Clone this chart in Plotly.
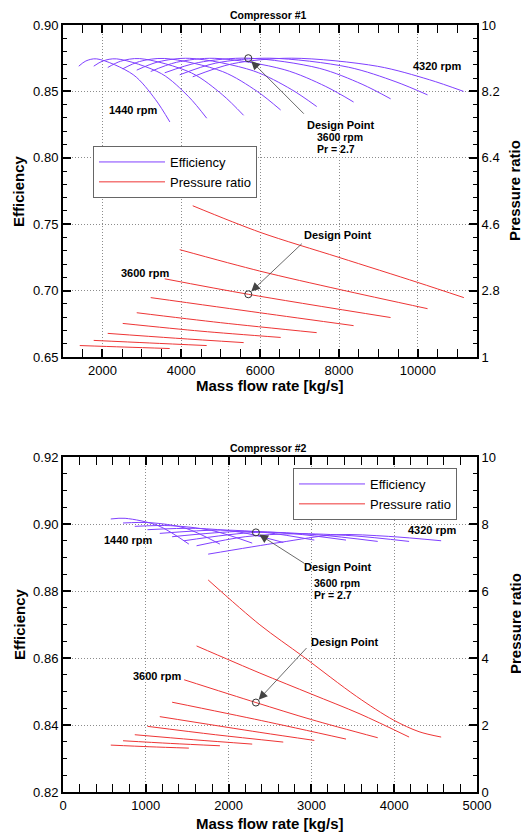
import plotly.graph_objects as go

FONT = "Liberation Sans, Arial, sans-serif"
# browser window size and default page margin of the html body
WIN_W, WIN_H = 529, 834
OFF = 8
W, H = WIN_W - OFF, WIN_H - OFF

# ---------------- data: Compressor #1 ----------------
speeds_rpm = [1440, 1800, 2160, 2520, 2880, 3240, 3600, 3960, 4320]

c1_eff_flow = [
    [1400, 1580, 1855, 2780, 3340, 3710],
    [1780, 2010, 2360, 3500, 4190, 4645],
    [2135, 2460, 2945, 4260, 5050, 5580],
    [2515, 2940, 3580, 5050, 5930, 6520],
    [2870, 3410, 4215, 5825, 6790, 7435],
    [3225, 3875, 4850, 6610, 7665, 8370],
    [3580, 4430, 5700, 7500, 8585, 9310],
    [3960, 4875, 6245, 8245, 9445, 10245],
    [4290, 5295, 6800, 8980, 10290, 11160],
]
c1_eff = [
    [0.869, 0.8729, 0.8745, 0.8626, 0.8441, 0.8270],
    [0.869, 0.8729, 0.8745, 0.8633, 0.8459, 0.8298],
    [0.868, 0.8727, 0.8747, 0.8639, 0.8473, 0.8320],
    [0.867, 0.8725, 0.8748, 0.8649, 0.8499, 0.8360],
    [0.866, 0.8722, 0.8749, 0.8655, 0.8515, 0.8386],
    [0.865, 0.8719, 0.8749, 0.8664, 0.8537, 0.8420],
    [0.864, 0.8717, 0.8750, 0.8674, 0.8554, 0.8444],
    [0.8625, 0.8713, 0.8750, 0.8682, 0.8572, 0.8474],
    [0.861, 0.8708, 0.8750, 0.8689, 0.8588, 0.8500],
]
c1_pr_flow = [
    [1425, 2550, 3706],
    [1779, 3200, 4644],
    [2134, 3850, 5582],
    [2515, 4500, 6521],
    [2870, 5000, 7434],
    [3224, 5988, 8370],
    [3579, 5700, 9308],
    [3960, 5988, 8016, 10246],
    [4290, 6000, 8000, 10000, 11167],
]
c1_pr = [
    [1.31, 1.27, 1.23],
    [1.45, 1.38, 1.31],
    [1.64, 1.51, 1.39],
    [1.91, 1.70, 1.53],
    [2.20, 1.93, 1.66],
    [2.61, 2.20, 1.85],
    [3.12, 2.70, 2.07],
    [3.91, 3.33, 2.83, 2.31],
    [5.10, 4.38, 3.70, 3.02, 2.61],
]
c1_design = {"flow": 5700, "eff": 0.875, "pr": 2.70}

# ---------------- data: Compressor #2 ----------------
c2_eff_flow = [
    [577, 750, 1150, 1520],
    [725, 1050, 1473, 1895],
    [867, 1300, 1793, 2285],
    [1020, 1600, 2130, 2660],
    [1169, 1900, 2468, 3035],
    [1318, 2150, 2784, 3418],
    [1463, 2330, 3066, 3801],
    [1613, 2200, 2800, 3490, 4180],
    [1753, 2620, 3300, 3934, 4567],
]
c2_eff = [
    [0.9015, 0.9017, 0.8995, 0.8940],
    [0.9003, 0.9004, 0.8988, 0.8940],
    [0.8993, 0.8995, 0.8981, 0.8943],
    [0.8983, 0.8987, 0.8976, 0.8945],
    [0.8972, 0.8982, 0.8974, 0.8952],
    [0.8962, 0.8978, 0.8971, 0.8952],
    [0.8950, 0.8975, 0.8968, 0.8948],
    [0.8935, 0.8962, 0.8971, 0.8965, 0.8948],
    [0.8910, 0.8945, 0.8968, 0.8963, 0.8950],
]
c2_pr_flow = [
    [577, 1050, 1520],
    [725, 1300, 1895],
    [867, 1580, 2285],
    [1020, 1840, 2660],
    [1169, 2378, 3035],
    [1318, 2400, 3418],
    [1463, 2330, 3003, 3801],
    [1613, 2378, 3003, 3587, 4180],
    [1753, 2378, 2902, 3547, 3990, 4300, 4567],
]
c2_pr = [
    [1.40, 1.35, 1.31],
    [1.53, 1.45, 1.38],
    [1.71, 1.56, 1.43],
    [1.96, 1.71, 1.49],
    [2.25, 1.78, 1.54],
    [2.68, 2.13, 1.58],
    [3.35, 2.67, 2.16, 1.62],
    [4.36, 3.55, 2.92, 2.33, 1.64],
    [6.33, 4.99, 4.04, 2.85, 2.15, 1.80, 1.64],
]
c2_design = {"flow": 2330, "eff": 0.8975, "pr": 2.67}

EFF_COLOR = "#8040ff"
PR_COLOR = "#ee3535"

fig = go.Figure()


def add_chart(eff_flow, eff, pr_flow, pr, design, xa, ya_l, ya_r, legend):
    for i, (fx, fy) in enumerate(zip(eff_flow, eff)):
        fig.add_trace(go.Scatter(
            x=fx, y=fy, mode="lines", line=dict(color=EFF_COLOR, width=1, shape="spline", smoothing=0.9),
            name="Efficiency", legendgroup=legend + "e", showlegend=(i == 0), legend=legend,
            xaxis=xa, yaxis=ya_l, hoverinfo="skip"))
    for i, (fx, fy) in enumerate(zip(pr_flow, pr)):
        fig.add_trace(go.Scatter(
            x=fx, y=fy, mode="lines", line=dict(color=PR_COLOR, width=1, shape="spline", smoothing=0.9),
            name="Pressure ratio", legendgroup=legend + "p", showlegend=(i == 0), legend=legend,
            xaxis=xa, yaxis=ya_r, hoverinfo="skip"))
    fig.add_trace(go.Scatter(x=[design["flow"]], y=[design["eff"]], mode="markers",
                             marker=dict(symbol="circle-open", size=7, color="#333", line=dict(width=1)),
                             showlegend=False, xaxis=xa, yaxis=ya_l))
    fig.add_trace(go.Scatter(x=[design["flow"]], y=[design["pr"]], mode="markers",
                             marker=dict(symbol="circle-open", size=7, color="#333", line=dict(width=1)),
                             showlegend=False, xaxis=xa, yaxis=ya_r))


add_chart(c1_eff_flow, c1_eff, c1_pr_flow, c1_pr, c1_design, "x", "y", "y2", "legend")
add_chart(c2_eff_flow, c2_eff, c2_pr_flow, c2_pr, c2_design, "x2", "y3", "y4", "legend2")


def fx_(xs):  # screen x pixel -> paper fraction
    return (xs - OFF) / W


def fy_(ys):  # screen y pixel -> paper fraction
    return 1 - (ys - OFF) / H


XD = [fx_(63), fx_(477)]
TOP = [fy_(357), fy_(25)]
BOT = [fy_(792), fy_(457)]

tickfont = dict(family=FONT, size=13, color="black")
GRID = dict(showgrid=True, gridcolor="#8c8c8c", griddash="1px,2px", gridwidth=1)


def xaxis(rng, dtick, minor, anchor):
    return dict(domain=XD, range=rng, dtick=dtick, tick0=0, anchor=anchor, automargin=False,
                showline=True, linecolor="black", linewidth=2, mirror="allticks",
                ticks="inside", ticklen=8, tickwidth=2, tickcolor="black",
                minor=dict(dtick=minor, tick0=0, ticks="inside", ticklen=4, tickwidth=1, tickcolor="black"),
                zeroline=False, tickfont=tickfont, tickformat="d", **GRID)


def yleft(dom, rng, dtick, minor, anchor, fmt):
    return dict(domain=dom, range=rng, dtick=dtick, tick0=0, anchor=anchor, automargin=False,
                showline=True, linecolor="black", linewidth=2,
                ticks="inside", ticklen=8, tickwidth=2, tickcolor="black",
                minor=dict(dtick=minor, tick0=0, ticks="inside", ticklen=4, tickwidth=1, tickcolor="black"),
                zeroline=False, tickfont=tickfont, tickformat=fmt, **GRID)


def yright(over, rng, tick0, dtick, minor, anchor):
    return dict(overlaying=over, side="right", range=rng, tick0=tick0, dtick=dtick, anchor=anchor,
                automargin=False,
                showline=True, linecolor="black", linewidth=2,
                ticks="inside", ticklen=8, tickwidth=2, tickcolor="black",
                minor=dict(dtick=minor, tick0=tick0, ticks="inside", ticklen=4, tickwidth=1, tickcolor="black"),
                showgrid=False, zeroline=False, tickfont=tickfont)


legend_common = dict(xanchor="left", yanchor="top", bordercolor="#666", borderwidth=1, bgcolor="white",
                     font=dict(family=FONT, size=13, color="black"), itemwidth=66, tracegroupgap=0)

fig.update_layout(
    template="none",
    width=W, height=H, margin=dict(l=0, r=0, t=0, b=0, autoexpand=False),
    paper_bgcolor="white", plot_bgcolor="white",
    font=dict(family=FONT, color="black"),
    xaxis=xaxis([1000, 11500], 2000, 500, "y"),
    yaxis=yleft(TOP, [0.65, 0.90], 0.05, 0.01, "x", ".2f"),
    yaxis2=yright("y", [1, 10], 1, 1.8, 0.36, "x"),
    xaxis2=xaxis([0, 5000], 1000, 200, "y3"),
    yaxis3=yleft(BOT, [0.82, 0.92], 0.02, 0.005, "x2", ".2f"),
    yaxis4=yright("y3", [0, 10], 0, 2, 0.5, "x2"),
    legend=dict(x=fx_(93), y=fy_(146), **legend_common),
    legend2=dict(x=fx_(293), y=fy_(468), **legend_common),
    showlegend=True,
)

ann = []


def text(s, xp, yp, size=11, bold=True, angle=0, xanchor="center"):
    ann.append(dict(text=("<b>%s</b>" % s) if bold else s, x=fx_(xp), y=fy_(yp), xref="paper", yref="paper",
                    showarrow=False, textangle=angle, xanchor=xanchor, yanchor="middle",
                    font=dict(family=FONT, size=size, color="black")))


def arrow(xv, yv, xref, yref, ax, ay):
    ann.append(dict(text="", x=xv, y=yv, xref=xref, yref=yref, ax=ax, ay=ay,
                    showarrow=True, arrowhead=2, arrowsize=2.2, arrowwidth=0.8, arrowcolor="#444",
                    standoff=4))


# Compressor #1
text("Compressor #1", 268, 15, size=10.5)
text("Efficiency", 19, 191, size=15, angle=-90)
text("Pressure ratio", 515, 191, size=15, angle=-90)
text("Mass flow rate [kg/s]", 270, 385, size=15)
text("4320 rpm", 437, 66)
text("1440 rpm", 133, 110)
text("Design Point", 341, 125)
text("3600 rpm", 315, 136.5, size=10.5, xanchor="left")
text("Pr = 2.7", 315, 148.5, size=10.5, xanchor="left")
text("Design Point", 338, 235)
text("3600 rpm", 145, 273)
arrow(c1_design["flow"], c1_design["eff"], "x", "y", 57, 57)
arrow(c1_design["flow"], c1_design["pr"], "x", "y2", 55, -52)

# Compressor #2
text("Compressor #2", 268, 448, size=10.5)
text("Efficiency", 19, 624, size=15, angle=-90)
text("Pressure ratio", 515, 624, size=15, angle=-90)
text("Mass flow rate [kg/s]", 270, 823, size=15)
text("4320 rpm", 432, 530)
text("1440 rpm", 128, 540)
text("Design Point", 338, 567)
text("3600 rpm", 312, 582.5, size=10.5, xanchor="left")
text("Pr = 2.7", 312, 594.5, size=10.5, xanchor="left")
text("Design Point", 345, 642)
text("3600 rpm", 157, 676)
arrow(c2_design["flow"], c2_design["eff"], "x2", "y3", 50, 32)
arrow(c2_design["flow"], c2_design["pr"], "x2", "y4", 52, -56)

fig.update_layout(annotations=ann)

fig.write_html("out.html")
